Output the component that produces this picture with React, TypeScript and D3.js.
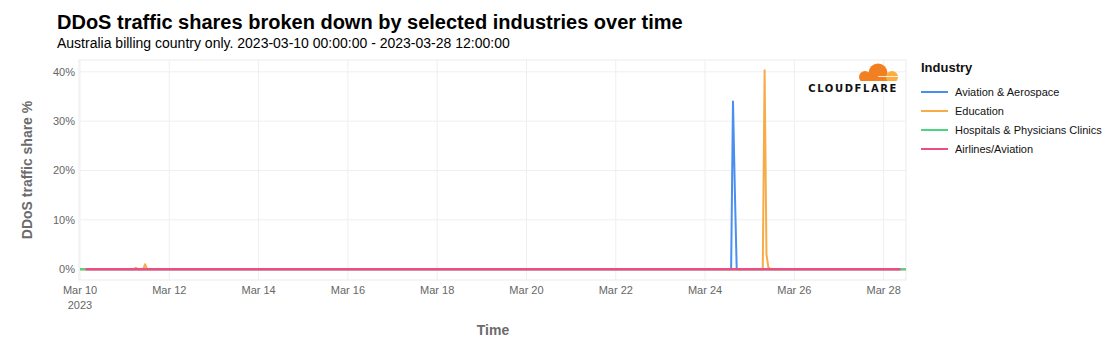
import * as d3 from "d3";
import React from "react";

// hourly samples; flat zero stretches are kept as end points only
const industries = ["Aviation & Aerospace", "Education", "Hospitals & Physicians Clinics", "Airlines/Aviation"];
const colors = ["#4a8ff0", "#f7ac47", "#4cd483", "#e94f84"];

const aviationAerospace: [string, number][] = [
  ["2023-03-10 00:00", 0],
  ["2023-03-24 14:00", 0],
  ["2023-03-24 15:00", 34.0],
  ["2023-03-24 16:00", 16.0],
  ["2023-03-24 17:00", 0],
  ["2023-03-28 12:00", 0],
];

const education: [string, number][] = [
  ["2023-03-10 00:00", 0],
  ["2023-03-11 05:00", 0],
  ["2023-03-11 06:00", 0.3],
  ["2023-03-11 07:00", 0],
  ["2023-03-11 10:00", 0],
  ["2023-03-11 11:00", 1.0],
  ["2023-03-11 12:00", 0],
  ["2023-03-25 07:00", 0],
  ["2023-03-25 08:00", 40.3],
  ["2023-03-25 09:00", 3.0],
  ["2023-03-25 10:00", 0.4],
  ["2023-03-25 11:00", 0],
  ["2023-03-28 12:00", 0],
];

const hospitalsClinics: [string, number][] = [
  ["2023-03-10 00:00", 0],
  ["2023-03-28 12:00", 0],
];

const airlinesAviation: [string, number][] = [
  ["2023-03-10 03:00", 0],
  ["2023-03-28 09:00", 0],
];

const yTicks = [0, 10, 20, 30, 40];
const xTicks = ["2023-03-10", "2023-03-12", "2023-03-14", "2023-03-16", "2023-03-18", "2023-03-20", "2023-03-22", "2023-03-24", "2023-03-26", "2023-03-28"];
const timeRange = ["2023-03-10 00:00", "2023-03-28 12:00"];

const parse = d3.utcParse("%Y-%m-%d %H:%M");
const parseDay = d3.utcParse("%Y-%m-%d");
const fmtTick = d3.utcFormat("%b %-d");

const W = 1118;
const H = 360;
const plot = { left: 80, right: 906, top: 60, bottom: 280 };
const font = "'Liberation Sans', Arial, Helvetica, sans-serif";

export default function App() {
  const x = d3
    .scaleUtc()
    .domain(timeRange.map((d) => parse(d) as Date))
    .range([plot.left, plot.right]);
  const y = d3.scaleLinear().domain([-2.2, 42.4]).range([plot.bottom, plot.top]);

  const line = d3
    .line<[string, number]>()
    .x((d) => x(parse(d[0]) as Date))
    .y((d) => y(d[1]));

  const series = [aviationAerospace, education, hospitalsClinics, airlinesAviation];

  return (
    <svg
      width={W}
      height={H}
      style={{ position: "absolute", left: 0, top: 0, background: "#fff" }}
      fontFamily={font}
    >
      <text x={57} y={29} fontSize={20} fontWeight="bold" fill="#000">
        DDoS traffic shares broken down by selected industries over time
      </text>
      <text x={57} y={48} fontSize={14} fill="#000">
        Australia billing country only. 2023-03-10 00:00:00 - 2023-03-28 12:00:00
      </text>

      {/* frame and grid */}
      <rect
        x={plot.left - 1}
        y={plot.top}
        width={plot.right - plot.left + 1}
        height={plot.bottom - plot.top}
        fill="none"
        stroke="#ebebeb"
      />
      {yTicks.map((t) => (
        <g key={t}>
          <line x1={plot.left} x2={plot.right} y1={y(t)} y2={y(t)} stroke="#efefef" />
          <text x={75} y={y(t) + 4} fontSize={11} fill="#666" textAnchor="end">
            {t}%
          </text>
        </g>
      ))}
      {xTicks.map((s, i) => {
        const t = parseDay(s) as Date;
        return (
          <g key={s}>
            <line x1={x(t)} x2={x(t)} y1={plot.top} y2={plot.bottom} stroke="#efefef" />
            <text x={x(t)} y={294} fontSize={11} fill="#666" textAnchor="middle">
              {fmtTick(t)}
            </text>
            {i === 0 && (
              <text x={x(t)} y={309} fontSize={11} fill="#666" textAnchor="middle">
                2023
              </text>
            )}
          </g>
        );
      })}

      {/* series */}
      {series.map((s, i) => (
        <path
          key={industries[i]}
          d={line(s) ?? ""}
          fill="none"
          stroke={colors[i]}
          strokeWidth={i === 3 ? 2.5 : 2}
          strokeLinejoin="round"
        />
      ))}

      {/* axis titles */}
      <text
        x={(plot.left + plot.right) / 2}
        y={335}
        fontSize={14}
        fontWeight="bold"
        fill="#6b6b6b"
        textAnchor="middle"
      >
        Time
      </text>
      <text
        transform={`translate(32,${(plot.top + plot.bottom) / 2}) rotate(-90)`}
        fontSize={14}
        fontWeight="bold"
        fill="#6b6b6b"
        textAnchor="middle"
      >
        DDoS traffic share %
      </text>

      {/* logo */}
      <g>
        <clipPath id="cloudClip">
          <rect x={850} y={58} width={55} height={23} />
        </clipPath>
        <g clipPath="url(#cloudClip)">
          <circle cx={865} cy={77} r={6} fill="#f38020" />
          <circle cx={878} cy={73} r={9.5} fill="#f38020" />
          <rect x={863} y={74} width={28} height={8} fill="#f38020" />
          <circle cx={892} cy={77} r={6} fill="#fbad41" />
          <line x1={878} x2={899} y1={76.5} y2={76.5} stroke="#fff" strokeWidth={0.8} />
        </g>
        <text
          x={898}
          y={92}
          fontSize={10}
          fontWeight="900"
          letterSpacing={1.6}
          textAnchor="end"
          fill="#111"
          fontFamily="'DejaVu Sans', sans-serif"
        >
          CLOUDFLARE
        </text>
      </g>

      {/* legend */}
      <text x={921} y={72} fontSize={13} fontWeight="bold" fill="#111">
        Industry
      </text>
      {industries.map((name, i) => (
        <g key={name} transform={`translate(921,${92 + i * 19})`}>
          <line x1={0} x2={27} y1={0} y2={0} stroke={colors[i]} strokeWidth={2} />
          <text x={34} y={4} fontSize={11} fill="#111">
            {name}
          </text>
        </g>
      ))}
    </svg>
  );
}
